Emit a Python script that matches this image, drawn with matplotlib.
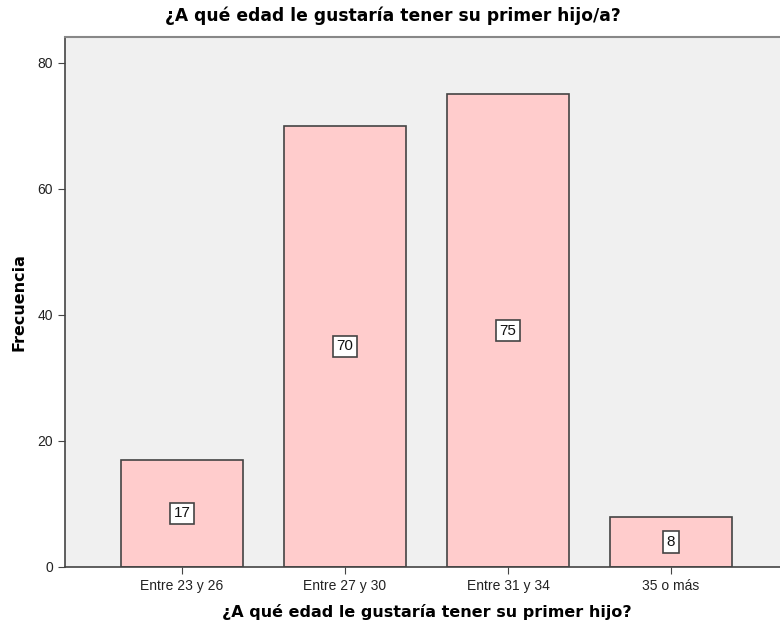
import matplotlib
matplotlib.use("Agg")
import matplotlib.pyplot as plt

categories = ["Entre 23 y 26", "Entre 27 y 30", "Entre 31 y 34", "35 o más"]
values = [17, 70, 75, 8]
yticks = [0, 20, 40, 60, 80]

plt.rcParams['font.family'] = ['Liberation Sans', 'DejaVu Sans']

fig = plt.figure(figsize=(7.8, 6.25), dpi=100)
ax = fig.add_axes([65/780, 1-567/625, (788-65)/780, (567-37)/625])
ax.set_facecolor('#F0F0F0')
x = list(range(len(categories)))
ax.bar(x, values, width=0.75, color='#FFCCCC', edgecolor='#444444', linewidth=1.2, zorder=2)
for xi, v in zip(x, values):
    ax.text(xi, v/2, str(v), ha='center', va='center', fontsize=11, color='#111111', zorder=3,
            bbox=dict(boxstyle='square,pad=0.25', facecolor='white', edgecolor='#444444', linewidth=1.2))
ax.set_xlim(-0.718, 3.718)
ax.set_ylim(0, 84.1)
ax.set_yticks(yticks)
ax.set_xticks(x)
ax.set_xticklabels(categories, fontsize=10, color='#222222')
ax.tick_params(axis='y', labelsize=10, labelcolor='#222222', length=5, color='#444444')
ax.tick_params(axis='x', length=5, color='#444444')
for s in ['left', 'bottom']:
    ax.spines[s].set_color('#444444')
    ax.spines[s].set_linewidth(1.2)
ax.spines['top'].set_color('#888888')
ax.spines['top'].set_linewidth(1.5)
ax.spines['right'].set_visible(False)
ax.set_ylabel('Frecuencia', fontsize=11.5, fontweight='bold', family='DejaVu Sans', labelpad=8)
ax.set_xlabel('¿A qué edad le gustaría tener su primer hijo?', fontsize=11.5, fontweight='bold',
              family='DejaVu Sans', labelpad=8)
fig.text(393/780, 1-16/625, '¿A qué edad le gustaría tener su primer hijo/a?', ha='center', va='center',
         fontsize=12.3, fontweight='bold', family='DejaVu Sans')
fig.savefig('out.png', dpi=100)
